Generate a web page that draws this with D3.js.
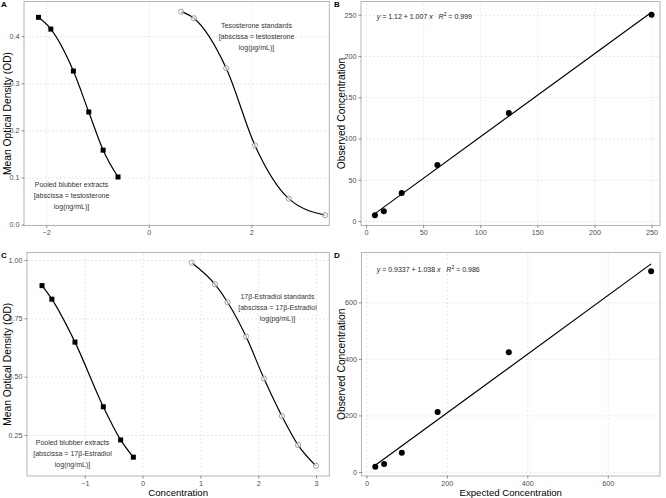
<!DOCTYPE html>
<html>
<head>
<meta charset="utf-8">
<script src="https://cdn.jsdelivr.net/npm/d3@7"></script>
<style>
  body { margin: 0; background: #fff; }
  svg { font-family: "Liberation Sans", Arial, sans-serif; }
</style>
</head>
<body>
<div id="chart"></div>
<script>
// testosterone: parallelism (A) and recovery (B)
var testoStdX = [0.63, 0.88, 1.51, 2.07, 2.73, 3.44];
var testoStdOD = [0.452, 0.438, 0.332, 0.168, 0.055, 0.020];
var testoPoolX = [-2.15, -1.91, -1.47, -1.17, -0.89, -0.60];
var testoPoolOD = [0.440, 0.415, 0.326, 0.239, 0.158, 0.101];
var testoExpected = [7.8, 15.6, 31.25, 62.5, 125, 250];
var testoObserved = [7, 12, 34, 68, 131, 250];
var testoFit = [1.12, 1.007, 0.999]; // intercept, slope, R2

// 17b-estradiol: parallelism (C) and recovery (D)
var e2StdX = [0.85, 1.25, 1.47, 1.79, 2.10, 2.41, 2.69, 3.00];
var e2StdOD = [0.988, 0.896, 0.819, 0.672, 0.492, 0.331, 0.207, 0.118];
var e2PoolX = [-1.74, -1.57, -1.17, -0.68, -0.38, -0.16];
var e2PoolOD = [0.890, 0.832, 0.648, 0.371, 0.229, 0.155];
var e2Expected = [22, 44, 88, 177, 354, 708];
var e2Observed = [19, 28, 68, 212, 423, 710];
var e2Fit = [0.9337, 1.038, 0.986];

// tick labels
var ticksAx = [-2, 0, 2], ticksAy = [0, 0.1, 0.2, 0.3, 0.4];
var ticksBx = [0, 50, 100, 150, 200, 250], ticksBy = [0, 50, 100, 150, 200, 250];
var ticksCx = [-1, 0, 1, 2, 3], ticksCy = [0.25, 0.5, 0.75, 1.0];
var ticksDx = [0, 200, 400, 600], ticksDy = [0, 200, 400, 600];

var svg = d3.select('#chart').append('svg')
    .attr('width', 666)
    .attr('height', 498);

var zip = function(xs, ys) { return xs.map(function(x, i) { return [x, ys[i]]; }); };

function panel(opt) {
    var x = d3.scaleLinear().domain(opt.xd).range([opt.l, opt.r]);
    var y = d3.scaleLinear().domain(opt.yd).range([opt.b, opt.t]);
    var g = svg.append('g');

    // dashed grid
    g.append('g')
        .attr('transform', 'translate(0,' + opt.b + ')')
        .call(d3.axisBottom(x).tickValues(opt.xt).tickSize(-(opt.b - opt.t)).tickFormat(''))
        .call(function(s) { s.select('.domain').remove(); })
        .selectAll('line').attr('stroke', '#d6d6d6').attr('stroke-dasharray', '2,2').attr('stroke-width', 0.6);
    g.append('g')
        .attr('transform', 'translate(' + opt.l + ',0)')
        .call(d3.axisLeft(y).tickValues(opt.yt).tickSize(-(opt.r - opt.l)).tickFormat(''))
        .call(function(s) { s.select('.domain').remove(); })
        .selectAll('line').attr('stroke', '#d6d6d6').attr('stroke-dasharray', '2,2').attr('stroke-width', 0.6);

    g.append('rect')
        .attr('x', opt.l).attr('y', opt.t)
        .attr('width', opt.r - opt.l).attr('height', opt.b - opt.t)
        .attr('fill', 'none').attr('stroke', '#b5b5b5').attr('stroke-width', 1);

    var ax = g.append('g')
        .attr('transform', 'translate(0,' + opt.b + ')')
        .call(d3.axisBottom(x).tickValues(opt.xt).tickSize(2.5).tickPadding(2).tickFormat(opt.xf || d3.format('d')));
    var ay = g.append('g')
        .attr('transform', 'translate(' + opt.l + ',0)')
        .call(d3.axisLeft(y).tickValues(opt.yt).tickSize(2.5).tickPadding(2).tickFormat(opt.yf || d3.format('d')));
    [ax, ay].forEach(function(a) {
        a.select('.domain').remove();
        a.selectAll('line').attr('stroke', '#444').attr('stroke-width', 0.6);
        a.selectAll('text').attr('fill', '#4d4d4d').style('font-size', '7.2px').style('font-family', 'Liberation Sans, Arial, sans-serif');
    });

    // titles
    g.append('text')
        .attr('transform', 'translate(' + opt.yTitleX + ',' + ((opt.t + opt.b) / 2) + ') rotate(-90)')
        .attr('text-anchor', 'middle')
        .attr('dy', '0.35em')
        .style('font-size', '10.3px')
        .text(opt.yTitle);
    if (opt.xTitle) {
        g.append('text')
            .attr('x', (opt.l + opt.r) / 2)
            .attr('y', opt.b + 20)
            .attr('text-anchor', 'middle')
            .style('font-size', '9.6px')
            .text(opt.xTitle);
    }
    g.append('text')
        .attr('x', opt.tagX).attr('y', opt.tagY)
        .style('font-size', '8px').style('font-weight', 'bold')
        .text(opt.tag);

    return { g: g, x: x, y: y };
}

function sigmoidPanel(p, stdX, stdY, poolX, poolY) {
    var line = d3.line()
        .x(function(d) { return p.x(d[0]); })
        .y(function(d) { return p.y(d[1]); })
        .curve(d3.curveMonotoneX);
    [zip(stdX, stdY), zip(poolX, poolY)].forEach(function(d) {
        p.g.append('path').datum(d)
            .attr('d', line)
            .attr('fill', 'none')
            .attr('stroke', '#000')
            .attr('stroke-width', 1.2);
    });
    p.g.selectAll('.std').data(zip(stdX, stdY)).enter().append('circle')
        .attr('cx', function(d) { return p.x(d[0]); })
        .attr('cy', function(d) { return p.y(d[1]); })
        .attr('r', 2.6)
        .attr('fill', '#fff')
        .attr('fill-opacity', 0.6)
        .attr('stroke', '#7a7a7a')
        .attr('stroke-width', 0.7);
    p.g.selectAll('.pool').data(zip(poolX, poolY)).enter().append('rect')
        .attr('x', function(d) { return p.x(d[0]) - 2.5; })
        .attr('y', function(d) { return p.y(d[1]) - 2.5; })
        .attr('width', 5)
        .attr('height', 5)
        .attr('fill', '#000');
}

function note(p, cx, cy, lines) {
    var t = p.g.append('text')
        .attr('text-anchor', 'middle')
        .attr('fill', '#333')
        .style('font-size', '7px');
    lines.forEach(function(s, i) {
        t.append('tspan').attr('x', cx).attr('y', cy + i * 11).text(s);
    });
}

function recoveryPanel(p, ex, ob, fit) {
    var x0 = d3.min(ex), x1 = d3.max(ex);
    p.g.append('line')
        .attr('x1', p.x(x0)).attr('y1', p.y(fit[0] + fit[1] * x0))
        .attr('x2', p.x(x1)).attr('y2', p.y(fit[0] + fit[1] * x1))
        .attr('stroke', '#000')
        .attr('stroke-width', 1.2);
    p.g.selectAll('.pt').data(zip(ex, ob)).enter().append('circle')
        .attr('cx', function(d) { return p.x(d[0]); })
        .attr('cy', function(d) { return p.y(d[1]); })
        .attr('r', 3)
        .attr('fill', '#000');
}

function equation(p, px, py, fit) {
    var t = p.g.append('text')
        .attr('x', px).attr('y', py)
        .attr('fill', '#222')
        .style('font-size', '7px');
    t.append('tspan').style('font-style', 'italic').text('y');
    t.append('tspan').text(' = ' + fit[0] + ' + ' + fit[1] + ' ');
    t.append('tspan').style('font-style', 'italic').text('x');
    t.append('tspan').text('\u00a0\u00a0 ');
    t.append('tspan').style('font-style', 'italic').text('R');
    t.append('tspan').attr('dy', -3).style('font-size', '5px').text('2');
    t.append('tspan').attr('dy', 3).text(' = ' + fit[2]);
}

// A
var pA = panel({
    l: 24, r: 329.3, t: 1.5, b: 225.5,
    xd: [-2.433, 3.52], yd: [-0.002, 0.4736],
    xt: ticksAx, yt: ticksAy, yf: d3.format('.1f'),
    yTitle: 'Mean Optical Density (OD)', yTitleX: 7,
    tag: 'A', tagX: 1, tagY: 7
});
sigmoidPanel(pA, testoStdX, testoStdOD, testoPoolX, testoPoolOD);
note(pA, 256.5, 28, ['Tesosterone standards', '[abscissa = testosterone', 'log(pg/mL)]']);
note(pA, 71.5, 186.5, ['Pooled blubber extracts', '[abscissa = testosterone', 'log(ng/mL)]']);

// B
var pB = panel({
    l: 361, r: 660, t: 1.5, b: 225.5,
    xd: [-4.4, 257.4], yd: [-5.4, 266],
    xt: ticksBx, yt: ticksBy,
    yTitle: 'Observed Concentration', yTitleX: 341,
    tag: 'B', tagX: 334, tagY: 7
});
recoveryPanel(pB, testoExpected, testoObserved, testoFit);
equation(pB, 376.7, 19, testoFit);

// C
var pC = panel({
    l: 27, r: 329.3, t: 252.5, b: 476,
    xd: [-2.0, 3.23], yd: [0.0744, 1.032],
    xt: ticksCx, yt: ticksCy, yf: d3.format('.2f'),
    yTitle: 'Mean Optical Density (OD)', yTitleX: 7,
    xTitle: 'Concentration',
    tag: 'C', tagX: 1, tagY: 258
});
sigmoidPanel(pC, e2StdX, e2StdOD, e2PoolX, e2PoolOD);
note(pC, 277.5, 298.5, ['17\u03b2-Estradiol standards', '[abscissa = 17\u03b2-Estradiol', 'log(pg/mL)]']);
note(pC, 72.5, 444.5, ['Pooled blubber extracts', '[abscissa = 17\u03b2-Estradiol', 'log(ng/mL)]']);

// D
var pD = panel({
    l: 361.5, r: 660, t: 252.5, b: 476,
    xd: [-12.3, 730], yd: [-14.1, 776],
    xt: ticksDx, yt: ticksDy,
    yTitle: 'Observed Concentration', yTitleX: 341,
    xTitle: 'Expected Concentration',
    tag: 'D', tagX: 334, tagY: 258
});
recoveryPanel(pD, e2Expected, e2Observed, e2Fit);
equation(pD, 376.7, 271.5, e2Fit);
</script>
</body>
</html>
